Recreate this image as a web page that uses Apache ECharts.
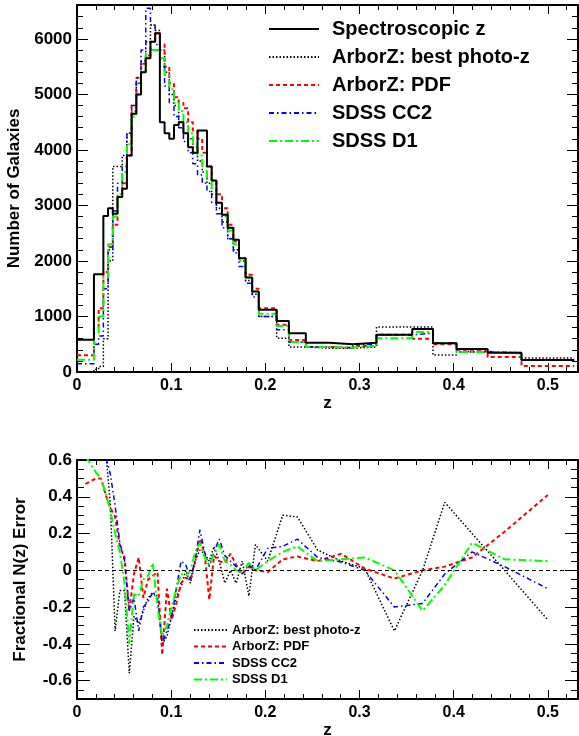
<!DOCTYPE html>
<html>
<head>
<meta charset="utf-8">
<script src="https://cdn.jsdelivr.net/npm/echarts@6/dist/echarts.min.js"></script>
<style>
  html, body { margin: 0; padding: 0; background: #fff; }
  #chart { width: 579px; height: 736px; }
</style>
</head>
<body>
<div id="chart"></div>
<script>
// bin edges in z (variable width)
var binEdges = [0, 0.018, 0.023, 0.028, 0.033, 0.038, 0.043, 0.048, 0.053, 0.058,
  0.063, 0.068, 0.073, 0.078, 0.083, 0.088, 0.093, 0.098, 0.103, 0.108,
  0.113, 0.118, 0.123, 0.128, 0.133, 0.138, 0.143, 0.148, 0.154, 0.160,
  0.166, 0.172, 0.179, 0.186, 0.193, 0.212, 0.225, 0.243, 0.268, 0.293,
  0.318, 0.356, 0.378, 0.403, 0.436, 0.472, 0.528];

// number of galaxies per bin
var nSpec = [580, 1760, 1760, 2810, 2950, 2850, 3150, 3300, 3900, 4650,
  5000, 5400, 5650, 5950, 6100, 4500, 4300, 4200, 4450, 4500,
  4300, 4050, 3950, 4350, 4350, 3700, 3450, 3050, 2830, 2600,
  2380, 2050, 1700, 1450, 1120, 920, 700, 525, 500, 525,
  670, 775, 520, 415, 345, 215];
var nBest = [0, 50, 100, 600, 2000, 3700, 3700, 3900, 4300, 4700,
  5200, 5600, 5950, 6250, 6150, 5800, 5400, 5000, 4800, 4500,
  4300, 4200, 4050, 3800, 3600, 3400, 3200, 2950, 2700, 2400,
  2200, 2000, 1650, 1400, 1000, 610, 450, 430, 430, 450,
  810, 810, 305, 360, 330, 250];
var nPdf = [300, 810, 1150, 1800, 2250, 2650, 3150, 3400, 3900, 4800,
  5300, 5550, 5700, 5950, 6100, 5900, 5500, 5200, 4950, 4850,
  4750, 4500, 4350, 4200, 3950, 3700, 3450, 3200, 2950, 2650,
  2350, 2050, 1750, 1500, 1150, 850, 575, 450, 430, 470,
  670, 600, 500, 400, 270, 110];
var nCC2 = [150, 500, 650, 1500, 2200, 2900, 3400, 3700, 4300, 4800,
  5300, 5800, 6550, 6250, 5900, 5500, 5150, 4850, 4600, 4400,
  4150, 3950, 3750, 3550, 3400, 3250, 3050, 2850, 2600, 2400,
  2150, 1900, 1600, 1350, 1000, 760, 540, 450, 440, 500,
  670, 700, 525, 370, 345, 215];
var nD1 = [220, 700, 1000, 1700, 2300, 2800, 3200, 3600, 4100, 4600,
  5000, 5400, 5750, 5800, 5800, 5650, 5350, 5100, 4850, 4700,
  4500, 4300, 4100, 3900, 3700, 3500, 3300, 3050, 2800, 2550,
  2300, 2000, 1700, 1450, 1050, 830, 540, 450, 440, 470,
  610, 720, 520, 360, 345, 215];

// fractional N(z) error at bin centres
var errBest = [1.0, 0.97, 0.94, 0.65, 0.35, -0.33, -0.11, -0.11, -0.56, -0.25,
  -0.29, -0.22, -0.15, -0.12, -0.14, -0.40, -0.36, -0.25, -0.14, -0.09,
  0.0, -0.07, 0.05, 0.11, 0.09, 0.05, 0.13, 0.05, -0.07, 0.0,
  -0.07, 0.05, -0.14, 0.14, 0.05, 0.30, 0.29, 0.11, 0.05, 0.01,
  -0.33, 0.0, 0.37, 0.20, 0.0, -0.27];
var errPdf = [0.47, 0.50, 0.50, 0.41, 0.34, 0.29, 0.13, 0.07, -0.22, -0.02,
  0.07, -0.15, -0.05, -0.03, -0.01, -0.46, -0.10, -0.27, -0.18, -0.07,
  -0.04, -0.05, 0.05, 0.17, 0.09, -0.16, 0.08, 0.05, 0.04, 0.09,
  0.03, -0.02, 0.02, 0.0, -0.01, 0.06, 0.075, 0.05, 0.09, 0.01,
  -0.045, 0.0, 0.02, 0.07, 0.21, 0.41];
var errCC2 = [0.85, 0.78, 0.70, 0.62, 0.52, 0.35, 0.15, 0.05, -0.22, -0.15,
  -0.33, -0.20, -0.17, -0.12, -0.16, -0.40, -0.33, -0.25, -0.10, 0.05,
  0.03, -0.05, 0.06, 0.22, 0.10, 0.02, 0.10, 0.17, 0.08, 0.05,
  0.02, -0.02, 0.03, 0.0, 0.12, 0.13, 0.17, 0.07, 0.045, 0.0,
  -0.20, -0.18, -0.02, 0.10, 0.02, -0.10];
var errD1 = [0.62, 0.53, 0.50, 0.42, 0.32, 0.20, 0.10, -0.07, -0.40, -0.13,
  -0.14, -0.05, -0.03, 0.04, -0.20, -0.36, -0.30, -0.20, -0.10, -0.02,
  -0.03, 0.0, 0.10, 0.15, 0.07, 0.03, 0.09, 0.14, 0.05, 0.03,
  0.0, -0.01, 0.04, 0.0, 0.05, 0.10, 0.13, 0.05, 0.06, 0.07,
  0.0, -0.22, -0.08, 0.15, 0.06, 0.05];

var errTicks = [-0.6, -0.4, -0.2, 0, 0.2, 0.4, 0.6];

var names = ['Spectroscopic z', 'ArborZ: best photo-z', 'ArborZ: PDF', 'SDSS CC2', 'SDSS D1'];
var styles = {
  'Spectroscopic z': { color: '#000000', width: 2, type: 'solid' },
  'ArborZ: best photo-z': { color: '#000000', width: 1.5, type: [1.5, 2] },
  'ArborZ: PDF': { color: '#ff0000', width: 2, type: [4, 3] },
  'SDSS CC2': { color: '#0000ff', width: 1.5, type: [5, 3, 1.5, 3] },
  'SDSS D1': { color: '#00ff00', width: 2, type: [8, 3, 2, 3] }
};

var FONT = '"Liberation Sans", Arial, Helvetica, sans-serif';
var black = '#000';

function fmt(v) { return String(+(+v).toFixed(2)); }

function histData(vals) {
  var d = vals.map(function (v, i) { return [binEdges[i], v]; });
  d.push([binEdges[vals.length], vals[vals.length - 1]]);
  return d;
}
function errData(vals) {
  return vals.map(function (v, i) { return [(binEdges[i] + binEdges[i + 1]) / 2, v]; });
}

function xAxis(grid, pos, labels, name) {
  return {
    type: 'value', gridIndex: grid, position: pos, min: 0, max: 0.532, interval: 0.1,
    axisLine: { onZero: false, lineStyle: { color: black, width: 2 } },
    axisTick: { inside: true, length: 9, lineStyle: { color: black, width: 1 } },
    minorTick: { show: true, splitNumber: 5, length: 5, lineStyle: { color: black, width: 1 } },
    splitLine: { show: false },
    axisLabel: {
      show: labels, showMaxLabel: false, margin: 6, formatter: fmt,
      fontSize: 16, fontWeight: 'bold', color: black, fontFamily: FONT
    },
    name: name, nameLocation: 'middle', nameGap: 22,
    nameTextStyle: { fontSize: 17, fontWeight: 'bold', color: black, fontFamily: FONT }
  };
}

function countAxis(pos, labels) {
  return {
    type: 'value', gridIndex: 0, position: pos, min: 0, max: 6610, interval: 1000,
    axisLine: { onZero: false, lineStyle: { color: black, width: 2 } },
    axisTick: { inside: true, length: 11, lineStyle: { color: black, width: 1 } },
    minorTick: { show: true, splitNumber: 5, length: 6, lineStyle: { color: black, width: 1 } },
    splitLine: { show: false },
    axisLabel: {
      show: labels, showMaxLabel: false, margin: 5, formatter: fmt,
      fontSize: 17, fontWeight: 'bold', color: black, fontFamily: FONT
    },
    name: labels ? 'Number of Galaxies' : '', nameLocation: 'middle', nameGap: 48,
    nameTextStyle: { fontSize: 17, fontWeight: 'bold', color: black, fontFamily: FONT }
  };
}

function errAxis(pos, labels) {
  return {
    type: 'value', gridIndex: 1, position: pos, min: -0.7, max: 0.6,
    axisLine: { onZero: false, lineStyle: { color: black, width: 2 } },
    axisTick: { inside: true, length: 13, customValues: errTicks, lineStyle: { color: black, width: 1 } },
    splitLine: { show: false },
    axisLabel: {
      show: labels, customValues: errTicks, margin: 5, formatter: fmt,
      fontSize: 17, fontWeight: 'bold', color: black, fontFamily: FONT
    },
    name: labels ? 'Fractional N(z) Error' : '', nameLocation: 'middle', nameGap: 48,
    nameTextStyle: { fontSize: 17, fontWeight: 'bold', color: black, fontFamily: FONT }
  };
}

function errMinorAxis(pos) {
  return {
    type: 'value', gridIndex: 1, position: pos, min: -0.7, max: 0.6, interval: 0.05,
    axisLine: { show: false, onZero: false },
    axisTick: { inside: true, length: 7, lineStyle: { color: black, width: 1 } },
    splitLine: { show: false },
    axisLabel: { show: false }
  };
}

var histSets = { 'Spectroscopic z': nSpec, 'ArborZ: best photo-z': nBest, 'ArborZ: PDF': nPdf, 'SDSS CC2': nCC2, 'SDSS D1': nD1 };
var errSets = { 'ArborZ: best photo-z': errBest, 'ArborZ: PDF': errPdf, 'SDSS CC2': errCC2, 'SDSS D1': errD1 };

var series = [];
names.forEach(function (n) {
  var s = styles[n];
  series.push({
    name: n, type: 'line', xAxisIndex: 0, yAxisIndex: 0,
    step: 'end', symbol: 'none', data: histData(histSets[n]),
    lineStyle: { color: s.color, width: s.width, type: s.type },
    itemStyle: { color: s.color },
    z: n === 'Spectroscopic z' ? 5 : 3
  });
});
names.slice(1).forEach(function (n, k) {
  var s = styles[n];
  var ser = {
    name: n, type: 'line', xAxisIndex: 2, yAxisIndex: 2,
    symbol: 'none', data: errData(errSets[n]),
    lineStyle: { color: s.color, width: s.width, type: s.type },
    itemStyle: { color: s.color }
  };
  if (k === 0) {
    ser.markLine = {
      silent: true, symbol: 'none', label: { show: false },
      lineStyle: { color: black, width: 1, type: [4, 3] },
      data: [{ yAxis: 0 }]
    };
  }
  series.push(ser);
});

var chart = echarts.init(document.getElementById('chart'));
chart.setOption({
  animation: false,
  backgroundColor: '#fff',
  grid: [
    { left: 77, top: 5, width: 501, height: 367, outerBoundsMode: 'none' },
    { left: 77, top: 460, width: 501, height: 239, outerBoundsMode: 'none' }
  ],
  xAxis: [
    xAxis(0, 'bottom', true, 'z'),
    xAxis(0, 'top', false, ''),
    xAxis(1, 'bottom', true, 'z'),
    xAxis(1, 'top', false, '')
  ],
  yAxis: [
    countAxis('left', true),
    countAxis('right', false),
    errAxis('left', true),
    errAxis('right', false),
    errMinorAxis('left'),
    errMinorAxis('right')
  ],
  legend: [
    {
      data: names, orient: 'vertical', left: 263, top: 14,
      itemWidth: 50, itemHeight: 14, itemGap: 8,
      itemStyle: { opacity: 0 },
      textStyle: { fontSize: 20, fontWeight: 'bold', color: black, fontFamily: FONT, lineHeight: 20, padding: [0, 0, 0, 8] },
      selectedMode: false
    },
    {
      data: names.slice(1), orient: 'vertical', left: 188, top: 618,
      itemWidth: 33, itemHeight: 10, itemGap: 2.5,
      itemStyle: { opacity: 0 },
      textStyle: { fontSize: 13, fontWeight: 'bold', color: black, fontFamily: FONT, lineHeight: 14 },
      selectedMode: false
    }
  ],
  series: series
});
</script>
</body>
</html>
